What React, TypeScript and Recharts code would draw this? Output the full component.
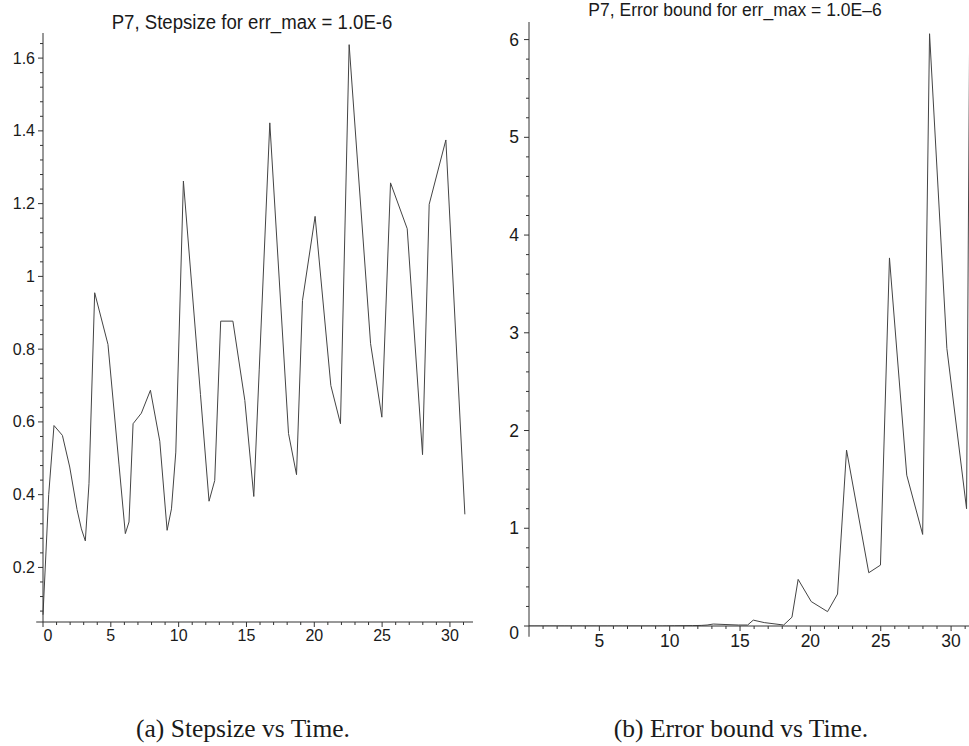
import { LineChart, Line, XAxis, YAxis, ReferenceLine } from "recharts";

// step times (the last one only has an error value)
const timeSteps = [
  0, 0.42, 0.81, 1.43, 1.97, 2.51, 2.83, 3.12, 3.39, 3.81,
  4.79, 5.6, 6.07, 6.34, 6.64, 7.25, 7.92, 8.61, 9.15, 9.47,
  9.79, 10.35, 11.61, 12.24, 12.66, 13.1, 14.0, 14.88, 15.54, 15.94,
  16.72, 18.1, 18.69, 19.13, 20.06, 21.22, 21.93, 22.57, 24.15, 24.98,
  25.62, 26.85, 27.98, 28.47, 29.7, 31.1, 31.45,
];

const stepsize = [
  0.07, 0.4, 0.59, 0.563, 0.476, 0.359, 0.306, 0.273, 0.43, 0.955,
  0.813, 0.484, 0.293, 0.325, 0.595, 0.624, 0.687, 0.547, 0.302, 0.361,
  0.517, 1.262, 0.675, 0.382, 0.439, 0.877, 0.877, 0.659, 0.395, 0.743,
  1.422, 0.568, 0.455, 0.934, 1.165, 0.7, 0.595, 1.637, 0.815, 0.613,
  1.257, 1.131, 0.51, 1.198, 1.375, 0.346,
];

const errorBound = [
  0, 0, 0, 0, 0, 0, 0, 0, 0, 0,
  0, 0, 0, 0, 0, 0, 0, 0, 0, 0,
  0.001, 0.002, 0.004, 0.006, 0.01, 0.02, 0.015, 0.01, 0.01, 0.06,
  0.035, 0.01, 0.09, 0.477, 0.25, 0.147, 0.327, 1.8, 0.545, 0.623,
  3.766, 1.543, 0.937, 6.06, 2.84, 1.2, 9,
];

const stepXMajor = [0, 5, 10, 15, 20, 25, 30];
const stepYMajor = [0.2, 0.4, 0.6, 0.8, 1, 1.2, 1.4, 1.6];
const errXMajor = [5, 10, 15, 20, 25, 30];
const errYMajor = [0, 1, 2, 3, 4, 5, 6];

const stepXTicks = Array.from({ length: 32 }, (_, i) => i);
const stepYTicks = Array.from({ length: 40 }, (_, i) => +(0.08 + i * 0.04).toFixed(2));
const errXTicks = Array.from({ length: 31 }, (_, i) => i + 1);
const errYTicks = Array.from({ length: 31 }, (_, i) => +(i * 0.2).toFixed(1));

const rows = timeSteps.map((t, i) => ({
  t,
  h: i < stepsize.length ? stepsize[i] : null,
  err: errorBound[i],
}));

const AXIS = "#333";
const INK = "#1a1a1a";
const SANS = "'Liberation Sans', Arial, sans-serif";
const SERIF = "'Liberation Serif', 'Times New Roman', serif";

function AxisTick(props: any) {
  const { x, y, payload, orient, majors, fontSize, gap, zeroShift } = props;
  const v = payload.value;
  const major = majors.some((m: number) => Math.abs(m - v) < 1e-6);
  const len = major ? 5 : 3;
  const label = String(Number(v.toFixed(2)));
  if (orient === "left") {
    return (
      <g>
        <line x1={x - len} x2={x} y1={y} y2={y} stroke={AXIS} strokeWidth={1} />
        {major && (
          <text
            x={x - gap}
            y={y + (v === 0 ? zeroShift : 0)}
            textAnchor="end"
            dominantBaseline="central"
            fontFamily={SANS}
            fontSize={fontSize}
            fill={INK}
          >
            {label}
          </text>
        )}
      </g>
    );
  }
  return (
    <g>
      <line x1={x} x2={x} y1={y} y2={y + len} stroke={AXIS} strokeWidth={1} />
      {major && (
        <text
          x={x + (v === 0 ? zeroShift : 0)}
          y={y + gap}
          textAnchor="middle"
          dominantBaseline="central"
          fontFamily={SANS}
          fontSize={fontSize}
          fill={INK}
        >
          {label}
        </text>
      )}
    </g>
  );
}

function StepsizeChart() {
  return (
    <LineChart
      width={490}
      height={660}
      data={rows}
      margin={{ top: 33, right: 17, bottom: 8, left: 0 }}
      style={{ position: "absolute", left: 0, top: 0 }}
    >
      <XAxis
        dataKey="t"
        type="number"
        domain={[0, 31.7]}
        ticks={stepXTicks}
        interval={0}
        height={30}
        tickSize={0}
        tickMargin={0}
        tickLine={false}
        axisLine={{ stroke: AXIS }}
        tick={(p: any) => (
          <AxisTick {...p} orient="bottom" majors={stepXMajor} fontSize={16} gap={13.5} zeroShift={5} />
        )}
      />
      <YAxis
        type="number"
        domain={[0.05, 1.669]}
        ticks={stepYTicks}
        interval={0}
        width={43}
        tickSize={0}
        tickMargin={0}
        tickLine={false}
        axisLine={{ stroke: AXIS }}
        tick={(p: any) => (
          <AxisTick {...p} orient="left" majors={stepYMajor} fontSize={16} gap={8} zeroShift={0} />
        )}
      />
      <ReferenceLine
        segment={[{ x: -0.5, y: 0.05 }, { x: 0, y: 0.05 }]}
        ifOverflow="visible"
        stroke={AXIS}
      />
      <Line
        type="linear"
        dataKey="h"
        stroke="#444"
        strokeWidth={1}
        dot={false}
        isAnimationActive={false}
      />
    </LineChart>
  );
}

function ErrorChart() {
  return (
    <LineChart
      width={510}
      height={660}
      data={rows}
      margin={{ top: 22, right: 15, bottom: 4, left: 0 }}
      style={{ position: "absolute", left: 480, top: 0 }}
    >
      <XAxis
        dataKey="t"
        type="number"
        domain={[0, 31.7]}
        ticks={errXTicks}
        interval={0}
        height={30}
        tickSize={0}
        tickMargin={0}
        tickLine={false}
        axisLine={{ stroke: AXIS }}
        tick={(p: any) => (
          <AxisTick {...p} orient="bottom" majors={errXMajor} fontSize={17.5} gap={15} zeroShift={0} />
        )}
      />
      <YAxis
        type="number"
        domain={[0, 6.18]}
        allowDataOverflow
        ticks={errYTicks}
        interval={0}
        width={49}
        tickSize={0}
        tickMargin={0}
        tickLine={false}
        axisLine={{ stroke: AXIS }}
        tick={(p: any) => (
          <AxisTick {...p} orient="left" majors={errYMajor} fontSize={17.5} gap={10} zeroShift={7} />
        )}
      />
      <ReferenceLine
        segment={[{ x: 0, y: 0 }, { x: 0, y: -0.11 }]}
        ifOverflow="visible"
        stroke={AXIS}
      />
      <Line
        type="linear"
        dataKey="err"
        stroke="#444"
        strokeWidth={1}
        dot={false}
        isAnimationActive={false}
      />
    </LineChart>
  );
}

const textBox = (left: number, top: number, width: number, font: string, size: number) =>
  ({
    position: "absolute",
    left,
    top,
    width,
    textAlign: "center",
    fontFamily: font,
    fontSize: size,
    lineHeight: 1,
    color: INK,
    whiteSpace: "nowrap",
  }) as const;

export default function App() {
  return (
    <div
      style={{
        position: "absolute",
        left: 0,
        top: 0,
        width: 969,
        height: 746,
        overflow: "hidden",
        background: "#fff",
      }}
    >
      <StepsizeChart />
      <ErrorChart />
      <div style={{ ...textBox(52, 12, 400, SANS, 20), transform: "scaleX(0.93)" }}>
        P7, Stepsize for err_max = 1.0E-6
      </div>
      <div style={textBox(535, 2, 400, SANS, 17.5)}>P7, Error bound for err_max = 1.0E–6</div>
      <div style={textBox(93, 715.5, 300, SERIF, 25.5)}>(a) Stepsize vs Time.</div>
      <div style={textBox(591, 715.5, 300, SERIF, 25.5)}>(b) Error bound vs Time.</div>
    </div>
  );
}
